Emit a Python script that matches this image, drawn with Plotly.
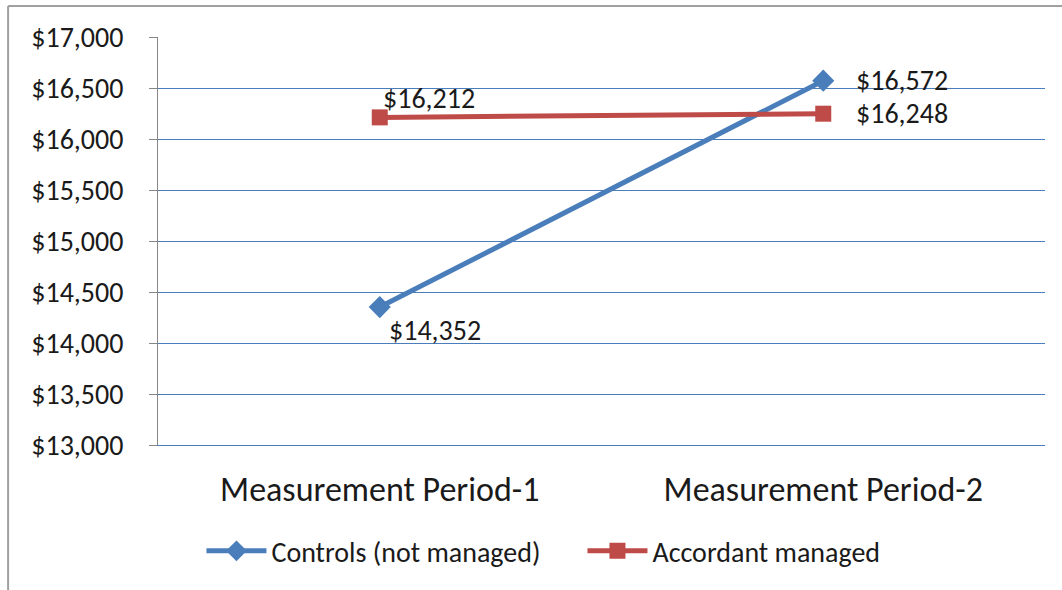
import plotly.graph_objects as go

categories = ["Measurement Period-1", "Measurement Period-2"]
controls = [14352, 16572]
accordant = [16212, 16248]
series_names = ["Controls (not managed)", "Accordant managed"]
y_ticks = [13000, 13500, 14000, 14500, 15000, 15500, 16000, 16500, 17000]

BLUE = "#4A7EBB"
RED = "#BE4B48"
GRID = "#4A7EBB"
FONT = "Carlito, Lato, sans-serif"
TXT = "#1a1a1a"

fig = go.Figure()
fig.add_trace(go.Scatter(x=categories, y=controls, name=series_names[0], mode="lines+markers",
                         line=dict(color=BLUE, width=5),
                         marker=dict(symbol="diamond", size=17, color=BLUE)))
fig.add_trace(go.Scatter(x=categories, y=accordant, name=series_names[1], mode="lines+markers",
                         line=dict(color=RED, width=5),
                         marker=dict(symbol="square", size=16, color=RED)))

def money(v):
    return "${:,}".format(v)

# data labels: (x, y, xshift, yshift)
label_specs = [
    (categories[0], accordant[0], 1, 19),
    (categories[1], controls[1], 31, 0),
    (categories[1], accordant[1], 31, 0),
    (categories[0], controls[0], 7, -23),
]
for cx, vy, xs, ys in label_specs:
    fig.add_annotation(x=cx, y=vy, text=money(vy), showarrow=False, xanchor="left", yanchor="middle",
                       xshift=xs, yshift=ys, font=dict(family=FONT, size=28, color=TXT))

# chart frame (top and left edges)
fig.add_shape(type="line", xref="paper", yref="paper", x0=-0.169, x1=1.03, y0=1.076, y1=1.076,
              line=dict(color="#A0A0A0", width=2))
fig.add_shape(type="line", xref="paper", yref="paper", x0=-0.169, x1=-0.169, y0=1.076, y1=-0.37,
              line=dict(color="#A0A0A0", width=2))

fig.update_layout(
    width=1062, height=590,
    margin=dict(l=158, r=17, t=37, b=145),
    paper_bgcolor="white", plot_bgcolor="white",
    font=dict(family=FONT, color=TXT),
    showlegend=True,
    legend=dict(orientation="h", x=0.049, xanchor="left", y=-0.26, yanchor="middle",
                font=dict(family=FONT, size=28, color=TXT), itemwidth=60, tracegroupgap=0,
                entrywidth=306),
    xaxis=dict(type="category", range=[-0.5, 1.5], showgrid=False, showline=True, linecolor=GRID,
               linewidth=1, ticks="", tickfont=dict(family=FONT, size=34, color=TXT),
               ticklabelstandoff=14, zeroline=False),
    yaxis=dict(range=[13000, 17000], tickvals=y_ticks, ticktext=[money(v) for v in y_ticks],
               showgrid=True, gridcolor=GRID, gridwidth=1, showline=True, linecolor="#868686",
               linewidth=1, ticks="outside", ticklen=8, tickcolor="#868686",
               tickfont=dict(family=FONT, size=28, color=TXT), ticklabelstandoff=20, zeroline=False),
)

fig.write_html("out.html", config={"displayModeBar": False},
               post_script="document.body.style.margin='0px';")
